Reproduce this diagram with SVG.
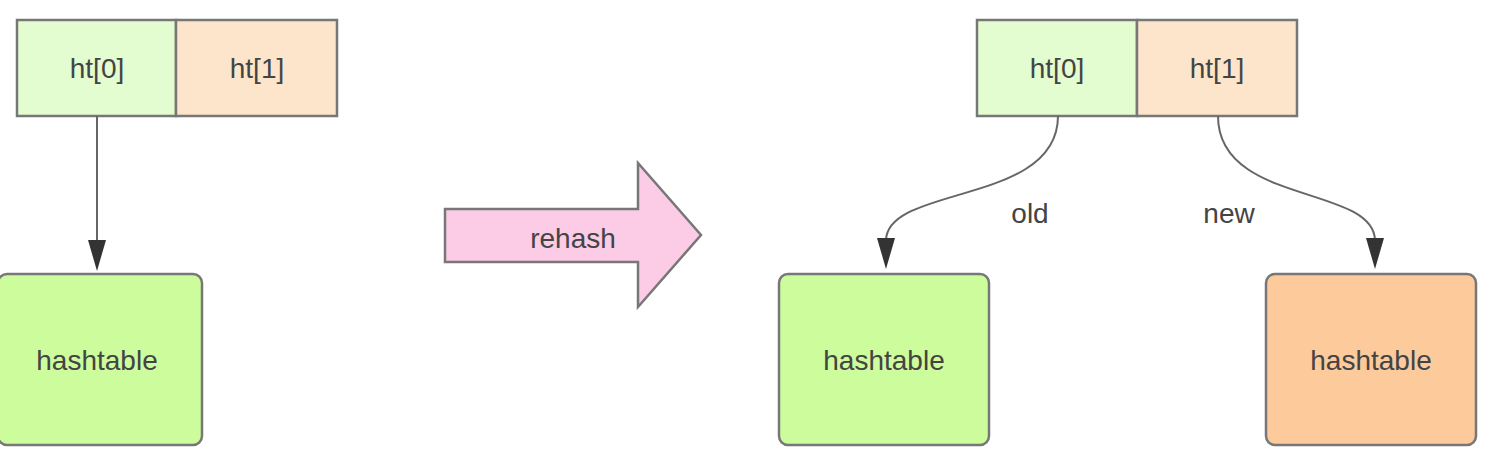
<svg xmlns="http://www.w3.org/2000/svg" width="1498" height="472" viewBox="0 0 1498 472">
<style>
.box{stroke:#777;stroke-width:2.5}
.t{font-family:"Liberation Sans",Arial,sans-serif;font-size:28px;fill:#444;text-anchor:middle;dominant-baseline:central}
.edge{fill:none;stroke:#666;stroke-width:2}
.head{fill:#333}
</style>
<rect width="1498" height="472" fill="#fff"/>
<g id="left-ht">
<rect class="box" x="17" y="20" width="159" height="96" fill="#e3fcd0"/>
<rect class="box" x="176" y="20" width="161" height="96" fill="#fde5cb"/>
<text class="t" x="97" y="68">ht[0]</text>
<text class="t" x="257" y="68">ht[1]</text>
</g>
<g id="left-hashtable">
<rect class="box" x="-2" y="274" width="204" height="171" rx="9" fill="#cdfc9c"/>
<text class="t" x="97" y="360">hashtable</text>
</g>
<g id="rehash">
<path class="box" d="M445,209 L638,209 L638,163 L701,235 L638,307 L638,262 L445,262 Z" fill="#fccbe6"/>
<text class="t" x="573" y="238">rehash</text>
</g>
<g id="right-ht">
<rect class="box" x="977" y="20" width="160" height="96" fill="#e3fcd0"/>
<rect class="box" x="1137" y="20" width="160" height="96" fill="#fde5cb"/>
<text class="t" x="1057" y="68">ht[0]</text>
<text class="t" x="1217" y="68">ht[1]</text>
</g>
<g id="old-hashtable">
<rect class="box" x="779" y="274" width="210" height="171" rx="9" fill="#cdfc9c"/>
<text class="t" x="884" y="360">hashtable</text>
</g>
<g id="new-hashtable">
<rect class="box" x="1266" y="274" width="210" height="171" rx="9" fill="#fdca9b"/>
<text class="t" x="1371" y="360">hashtable</text>
</g>
<g id="connectors">
<path d="M97,116 L97,240" class="edge"/>
<path class="head" d="M88,240 L106,240 L97,271 Z"/>
<path d="M1058,116 C1058,205 888,185 886,240" class="edge"/>
<path class="head" d="M877,238 L895,238 L886,269 Z"/>
<path d="M1218,116 C1218,205 1373,185 1375,240" class="edge"/>
<path class="head" d="M1366,238 L1384,238 L1375,269 Z"/>
<text class="t" x="1030" y="213">old</text>
<text class="t" x="1229" y="213">new</text>
</g>
</svg>
